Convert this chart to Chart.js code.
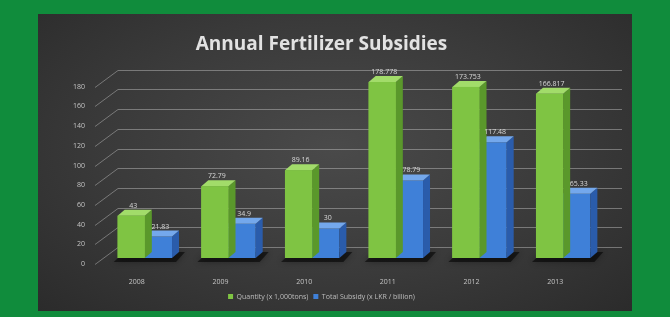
<!DOCTYPE html>
<html>
<head>
<meta charset="utf-8">
<script src="https://cdn.jsdelivr.net/npm/chart.js@4/dist/chart.umd.min.js"></script>
<style>
  html, body { margin: 0; padding: 0; }
  body { width: 670px; height: 317px; background: #108c3c; position: relative; overflow: hidden; }
  #panel {
    position: absolute; left: 38px; top: 14px; width: 594px; height: 297px;
    background: radial-gradient(ellipse at 50% 45%, #4a4a4a 0%, #3a3a3a 55%, #2b2b2b 100%);
  }
  #panel canvas { display: block; }
</style>
</head>
<body>
<div id="panel"><canvas id="chart" width="594" height="297"></canvas></div>
<script>
// data
const years = ["2008", "2009", "2010", "2011", "2012", "2013"];
const quantity = [43, 72.79, 89.16, 178.778, 173.753, 166.817];      // x 1,000 tons
const subsidy = [21.83, 34.9, 30, 78.79, 117.48, 65.33];             // billion
const yTicks = [0, 20, 40, 60, 80, 100, 120, 140, 160, 180];
const seriesNames = ["Quantity (x 1,000tons)", "Total Subsidy (x LKR / billion)"];

const DEPTH_X = 7, DEPTH_Y = -6;      // 3D depth of each bar
const WALL_X = 15, WALL_Y = -11;      // offset of the back wall
const FLOOR_X = -8, FLOOR_Y = 6;      // front edge of the floor

const faces = [
  { front: "#7fc443", top: "#a2dc6a", side: "#5a982b" },
  { front: "#3f80d8", top: "#74a8ec", side: "#2a5cab" }
];

// back wall gridlines + bar depth + value labels
const fake3d = {
  id: "fake3d",
  beforeDatasetsDraw(chart) {
    const { ctx, chartArea: a, scales: { y } } = chart;
    ctx.save();
    ctx.strokeStyle = "rgba(200,200,200,0.45)";
    ctx.lineWidth = 1;
    yTicks.forEach(v => {
      const py = Math.round(y.getPixelForValue(v)) + 0.5;
      ctx.beginPath();
      ctx.moveTo(a.left + FLOOR_X, py + FLOOR_Y);
      ctx.lineTo(a.left + WALL_X, py + WALL_Y);
      ctx.lineTo(a.right + WALL_X + 2, py + WALL_Y);
      ctx.stroke();
    });
    // floor shadow under each group
    ctx.fillStyle = "rgba(0,0,0,0.55)";
    ctx.shadowColor = "rgba(0,0,0,0.6)";
    ctx.shadowBlur = 6;
    const m0 = chart.getDatasetMeta(0).data, m1 = chart.getDatasetMeta(1).data;
    m0.forEach((b, i) => {
      const c = m1[i];
      const l = b.x - b.width / 2, r = c.x + c.width / 2;
      ctx.beginPath();
      ctx.moveTo(l - 4, b.base + 4);
      ctx.lineTo(r + 4, b.base + 4);
      ctx.lineTo(r + DEPTH_X + 6, b.base + DEPTH_Y);
      ctx.lineTo(l + DEPTH_X, b.base + DEPTH_Y);
      ctx.closePath();
      ctx.fill();
    });
    ctx.restore();
  },
  afterDatasetsDraw(chart) {
    const { ctx } = chart;
    ctx.save();
    // blue first, green faces painted over it
    [1, 0].forEach(di => {
      const f = faces[di];
      chart.getDatasetMeta(di).data.forEach(b => {
        const l = b.x - b.width / 2, r = b.x + b.width / 2;
        ctx.fillStyle = f.side;
        ctx.beginPath();
        ctx.moveTo(r, b.y);
        ctx.lineTo(r + DEPTH_X, b.y + DEPTH_Y);
        ctx.lineTo(r + DEPTH_X, b.base + DEPTH_Y);
        ctx.lineTo(r, b.base);
        ctx.closePath();
        ctx.fill();
        ctx.fillStyle = f.top;
        ctx.beginPath();
        ctx.moveTo(l, b.y);
        ctx.lineTo(l + DEPTH_X, b.y + DEPTH_Y);
        ctx.lineTo(r + DEPTH_X, b.y + DEPTH_Y);
        ctx.lineTo(r, b.y);
        ctx.closePath();
        ctx.fill();
      });
    });
    ctx.fillStyle = faces[0].front;
    chart.getDatasetMeta(0).data.forEach(b => {
      ctx.fillRect(b.x - b.width / 2, b.y, b.width, b.base - b.y);
    });
    // value labels
    ctx.fillStyle = "#d8d8d8";
    ctx.font = "7px 'Open Sans', sans-serif";
    ctx.textAlign = "center";
    ctx.textBaseline = "middle";
    [quantity, subsidy].forEach((vals, di) => {
      chart.getDatasetMeta(di).data.forEach((b, i) => {
        ctx.fillText(String(vals[i]), b.x + 2, b.y - 10);
      });
    });
    ctx.restore();
  }
};

const ctx = document.getElementById("chart").getContext("2d");

new Chart(ctx, {
  type: "bar",
  data: {
    labels: years,
    datasets: [
      { label: seriesNames[0], data: quantity, backgroundColor: faces[0].front, borderWidth: 0 },
      { label: seriesNames[1], data: subsidy, backgroundColor: faces[1].front, borderWidth: 0 }
    ]
  },
  options: {
    responsive: false,
    animation: false,
    layout: { padding: { left: 0, right: 27, top: 0, bottom: 1 } },
    plugins: {
      title: {
        display: true,
        text: "Annual Fertilizer Subsidies",
        color: "#e2e2e2",
        font: { family: "'Open Sans', sans-serif", size: 19, weight: "bold" },
        padding: { top: 19, bottom: 25 }
      },
      legend: {
        position: "bottom",
        labels: {
          color: "#bdbdbd",
          font: { family: "'Open Sans', sans-serif", size: 7 },
          boxWidth: 5, boxHeight: 5, padding: 5
        }
      },
      tooltip: { enabled: false }
    },
    datasets: { bar: { categoryPercentage: 0.65, barPercentage: 1.0 } },
    scales: {
      x: {
        grid: { display: false, drawTicks: false },
        border: { display: false },
        ticks: { color: "#c4c4c4", font: { family: "'Open Sans', sans-serif", size: 7 }, padding: 20, labelOffset: -8 },
        afterFit: s => { s.height = 30; }
      },
      y: {
        min: 0, max: 180,
        afterBuildTicks: s => { s.ticks = yTicks.map(v => ({ value: v })); },
        grid: { display: false, drawTicks: false },
        border: { display: false },
        ticks: { color: "#c4c4c4", font: { family: "'Open Sans', sans-serif", size: 7 }, padding: 18, labelOffset: 6 },
        afterFit: s => { s.width = 65; }
      }
    }
  },
  plugins: [fake3d]
});
</script>
</body>
</html>
